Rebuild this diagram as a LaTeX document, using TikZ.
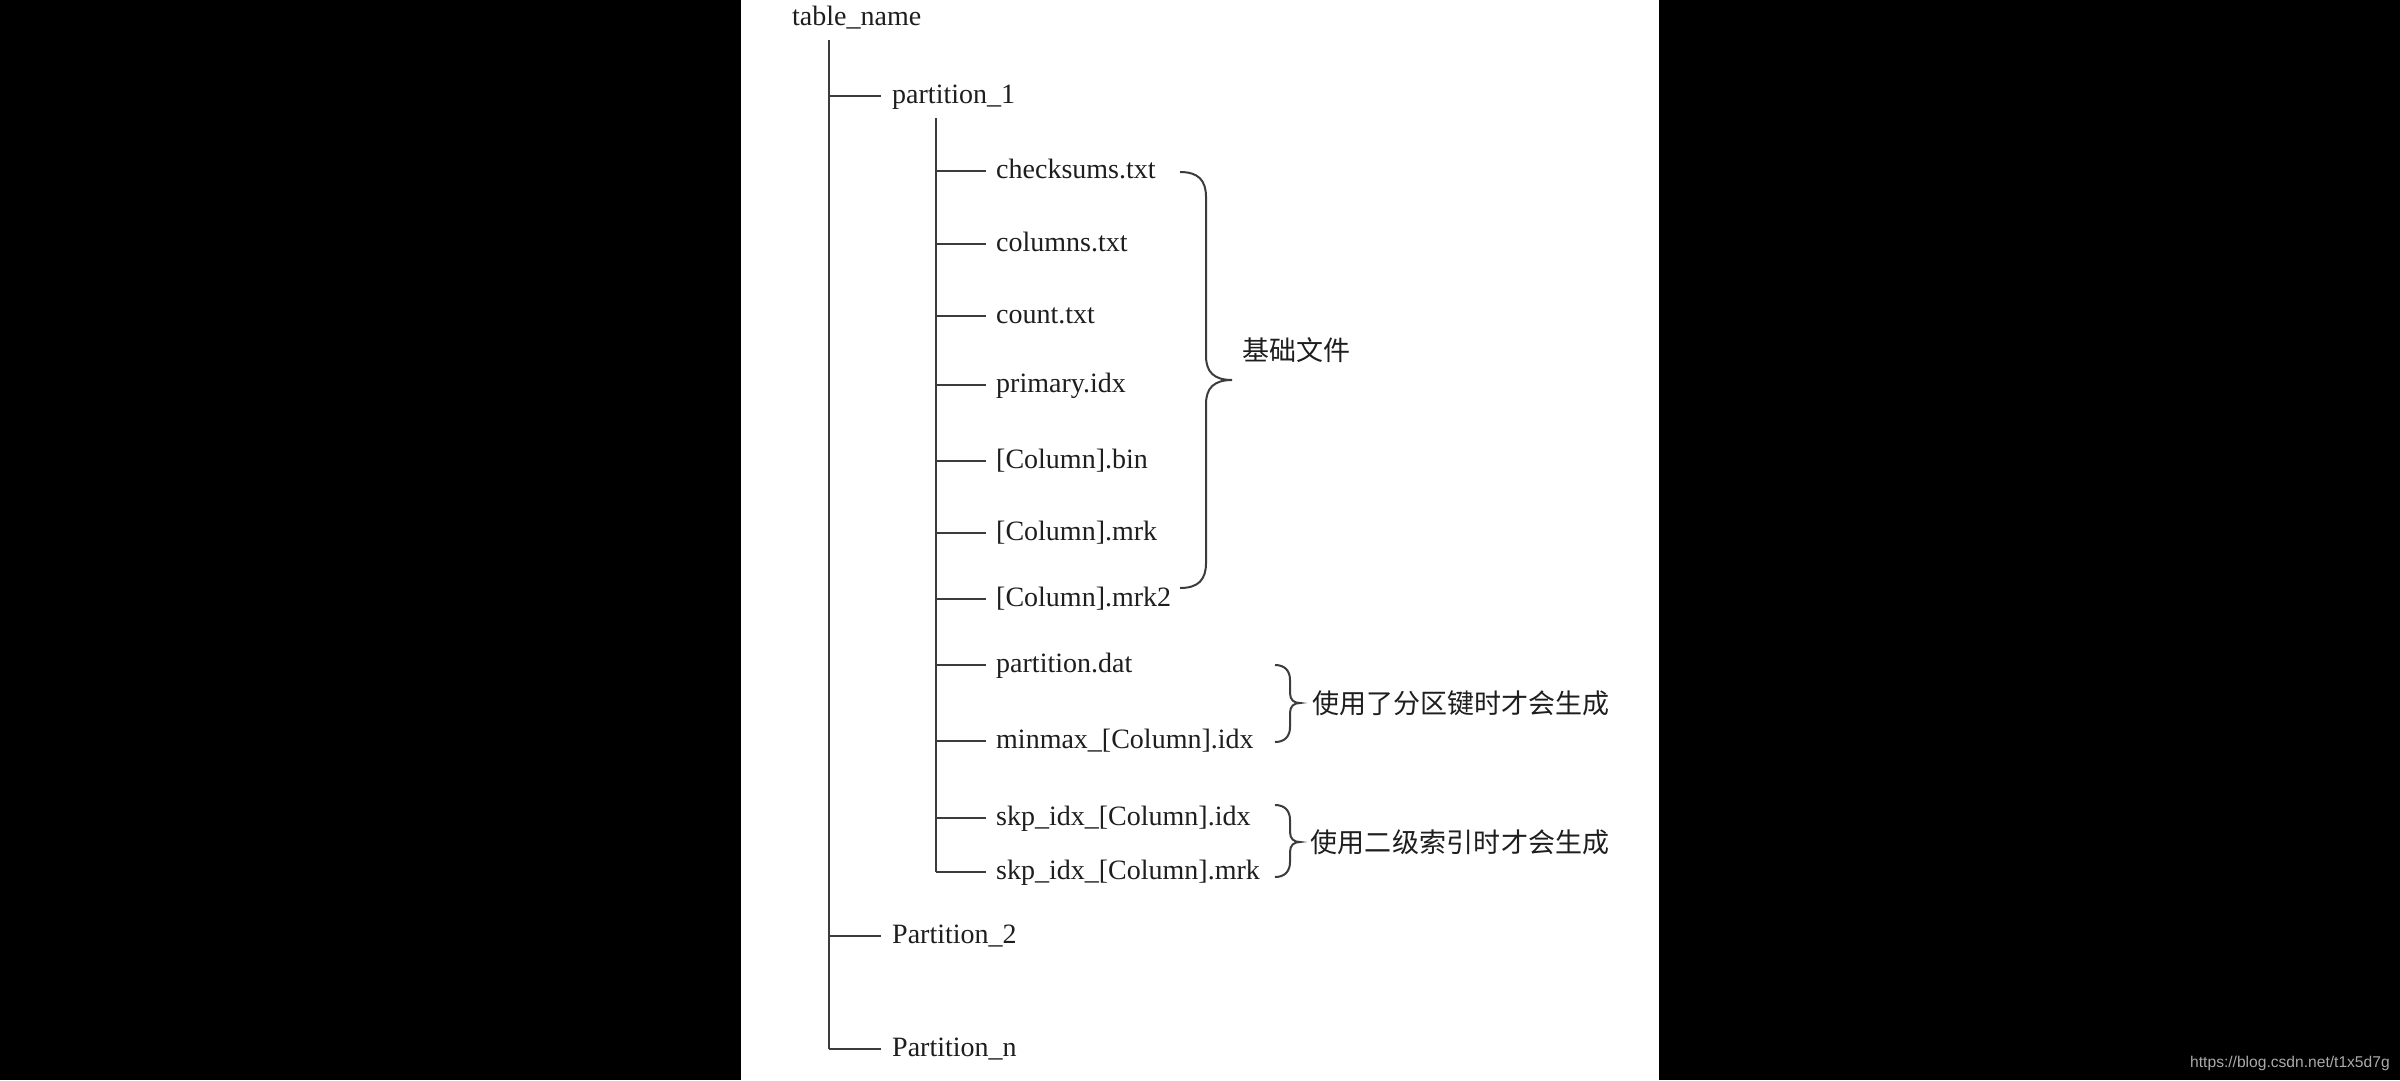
\documentclass[tikz,border=0pt]{standalone}
\usepackage{fontspec}
\setmainfont{Liberation Serif}
\newfontfamily\cjk{Noto Sans CJK SC}
\newfontfamily\cjkwide[LetterSpace=1]{Noto Sans CJK SC}
\newfontfamily\wmfont{Liberation Sans}
\definecolor{textblack}{RGB}{30,30,30}
\definecolor{linegray}{RGB}{60,60,60}
\definecolor{wmgray}{RGB}{170,170,170}
\begin{document}
\begin{tikzpicture}[x=1pt,y=-1pt,
  conn/.style={draw=linegray,line width=2pt},
  brc/.style={draw=linegray,line width=2pt},
  item/.style={anchor=west,inner sep=0pt,text height=20pt,text depth=6pt,
    font=\fontsize{28}{34}\selectfont,text=textblack},
  note/.style={anchor=west,inner sep=0pt,font=\cjk\fontsize{27}{32}\selectfont,text=textblack}]
\useasboundingbox (0,0) rectangle (2400,1080);
\fill[black] (0,0) rectangle (2400,1080);
\fill[white] (741,0) rectangle (1659,1080);

% root and top level
\node[item] (root) at (792,18) {table\_name};
\coordinate (m0) at (829,40);
\coordinate (m1) at (829,96);
\coordinate (m2) at (829,936);
\coordinate (m3) at (829,1049);
\node[item] (p1) at (892,96) {partition\_1};
\node[item] (p2) at (892,936) {Partition\_2};
\node[item] (pn) at (892,1049) {Partition\_n};
\draw[conn] (m0) -- (m3);
\draw[conn] (m1) -- ([xshift=-11pt]p1.west);
\draw[conn] (m2) -- ([xshift=-11pt]p2.west);
\draw[conn] (m3) -- ([xshift=-11pt]pn.west);

% partition_1 children
\coordinate (s0) at (936,118);
\foreach \n/\y/\t in {
  1/171/checksums.txt,
  2/244/columns.txt,
  3/316/count.txt,
  4/385/primary.idx,
  5/461/[Column].bin,
  6/533/[Column].mrk,
  7/599/[Column].mrk2,
  8/665/partition.dat,
  9/741/minmax\_[Column].idx,
  10/818/skp\_idx\_[Column].idx,
  11/872/skp\_idx\_[Column].mrk}{
  \coordinate (s\n) at (936,\y);
  \node[item] (c\n) at (996,\y) {\t};
  \draw[conn] (s\n) -- ([xshift=-10pt]c\n.west);
}
\draw[conn] (s0) -- (s11);

% braces
\coordinate (b1a) at (1180,172);
\coordinate (b1t) at (1232,380);
\coordinate (b1b) at (1180,588);
\draw[brc] (b1a) .. controls (1198,172) and (1206,180) .. (1206,197) -- (1206,356)
  .. controls (1206,372) and (1214,380) .. (b1t)
  .. controls (1214,380) and (1206,388) .. (1206,404) -- (1206,563)
  .. controls (1206,580) and (1198,588) .. (b1b);
\node[note] (n1) at (1242,350) {基础文件};

\coordinate (b2a) at (1275,665);
\coordinate (b2t) at (1300,703);
\coordinate (b2b) at (1275,742);
\draw[brc] (b2a) .. controls (1284,665) and (1290,670) .. (1290,680) -- (1290,693)
  .. controls (1290,700) and (1294,703) .. (b2t)
  .. controls (1294,703) and (1290,706) .. (1290,713) -- (1290,727)
  .. controls (1290,737) and (1284,742) .. (b2b);
\node[note] (n2) at (1312,703) {使用了分区键时才会生成};

\coordinate (b3a) at (1275,805);
\coordinate (b3t) at (1300,842);
\coordinate (b3b) at (1275,877);
\draw[brc] (b3a) .. controls (1284,805) and (1290,810) .. (1290,820) -- (1290,832)
  .. controls (1290,839) and (1294,842) .. (b3t)
  .. controls (1294,842) and (1290,845) .. (1290,852) -- (1290,862)
  .. controls (1290,872) and (1284,877) .. (b3b);
\node[note,font=\cjkwide\fontsize{27}{32}\selectfont] (n3) at (1310,842) {使用二级索引时才会生成};

% watermark
\node[anchor=base west,inner sep=0pt,font=\wmfont\fontsize{15.6}{18}\selectfont,text=wmgray] (wm) at (2190,1067) {https://blog.csdn.net/t1x5d7g};
\end{tikzpicture}
\end{document}
